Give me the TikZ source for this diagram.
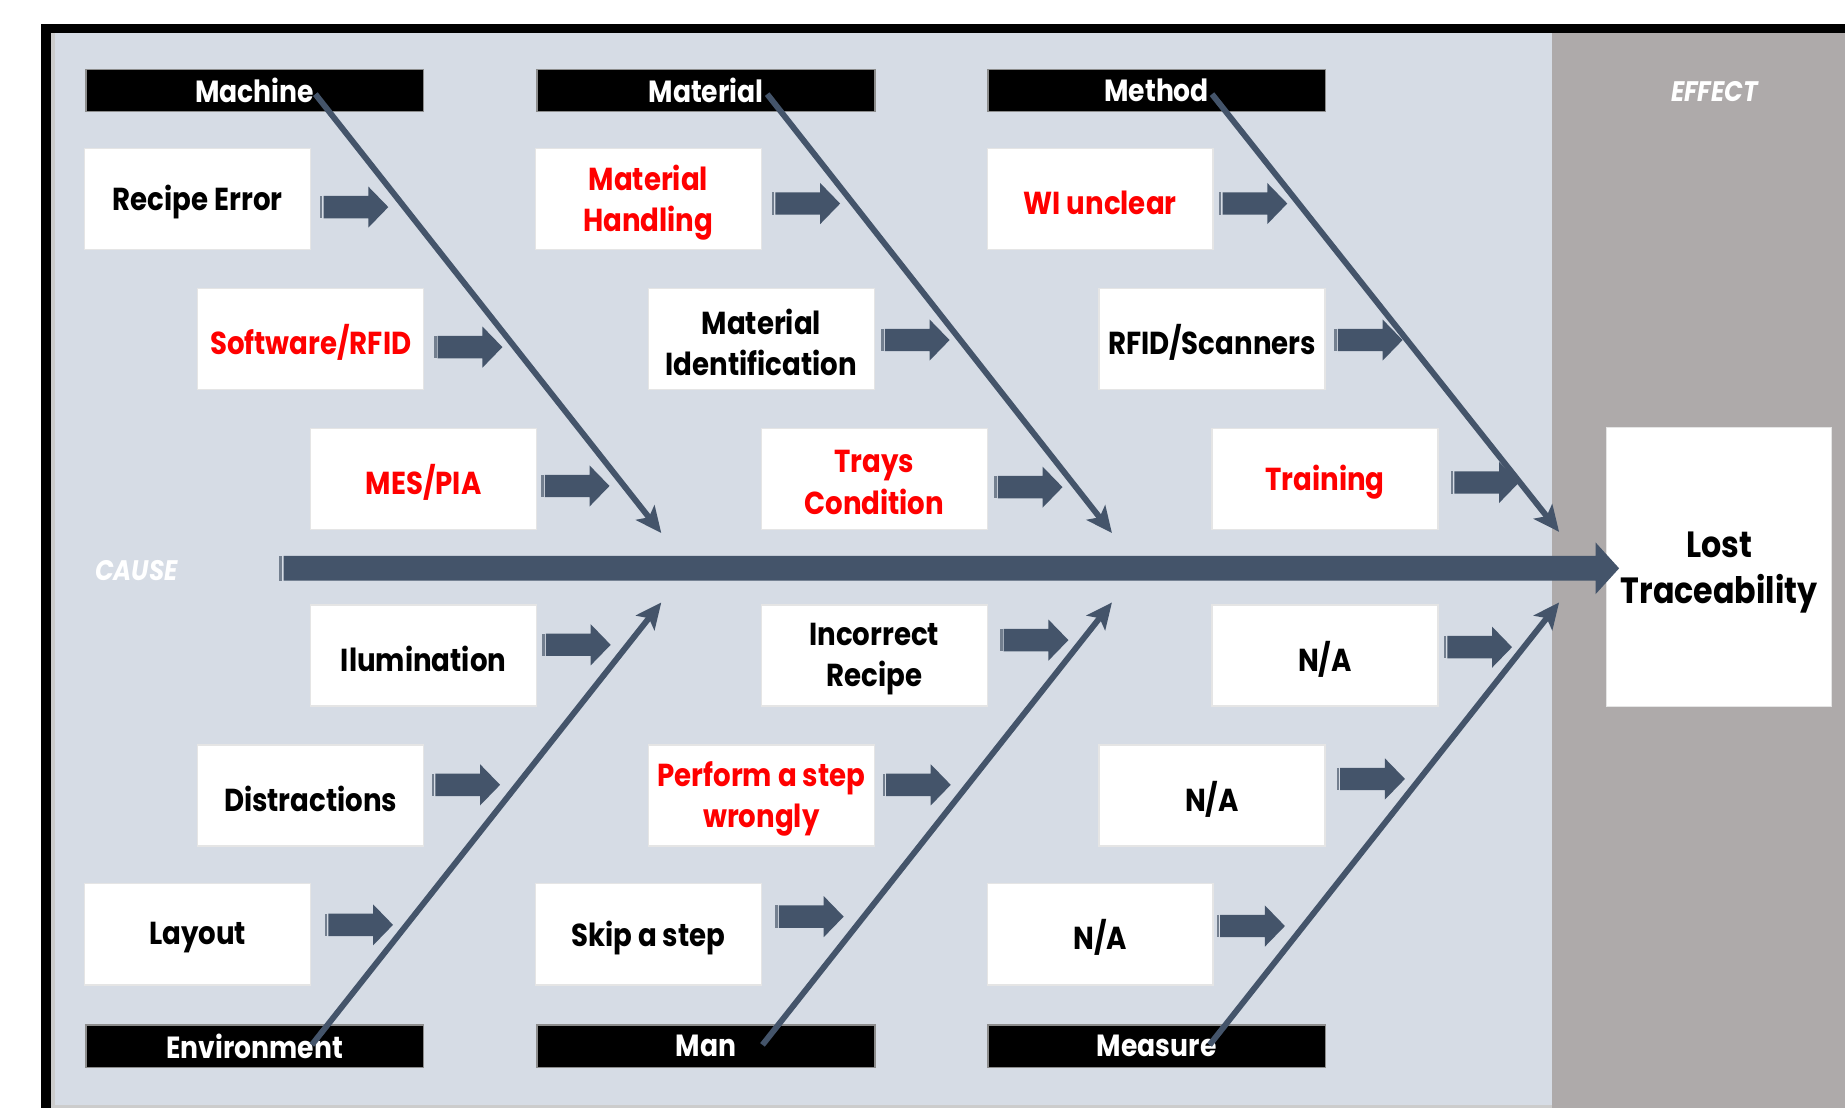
\documentclass[tikz,border=0pt]{standalone}
\usepackage{fontspec}
\setmainfont{Poppins}[FakeStretch=0.87]
\usetikzlibrary{arrows.meta}
\definecolor{panel}{HTML}{D6DCE5}
\definecolor{effectgray}{HTML}{AEAAAA}
\definecolor{bone}{HTML}{44546A}
\definecolor{redtext}{HTML}{FF0000}
\tikzset{
  causebox/.style={fill=white, draw=black!10, line width=0.6pt, minimum width=96pt,
    minimum height=43pt, inner sep=0pt},
  boxtext/.style={inner sep=0pt, align=center,
    font=\bfseries\fontsize{13.5}{17.5}\selectfont},
  redtxt/.style={text=redtext},
  blacktxt/.style={text=black},
  hdr/.style={fill=black, draw=black!45, line width=0.6pt, minimum width=143.5pt,
    minimum height=18pt, inner sep=0pt, text=white,
    font=\bfseries\fontsize{13}{15}\selectfont},
  bonel/.style={draw=bone, line width=2.5pt, -{Stealth[length=11pt,width=10pt,inset=2.5pt]}},
  sidelabel/.style={text=white, font=\bfseries\itshape\fontsize{12}{13}\selectfont}
}
% #1 text style, #2 name, #3 position, #4 text
\newcommand\causenode[4]{%
  \node[causebox] (#2) at (#3) {};
  \node[boxtext,#1] (#2-t) at ([yshift=-1.5pt]#2.center) {#4};}
\newcommand\blkarrow[2]{%
  \begin{scope}[shift={(#1,#2)}]
    \fill[bone!75] (0,-9.5) rectangle (2,9.5);
    \fill[bone] (3,-9.5) -- (41,-9.5) -- (41,-17.5) -- (58,0) -- (41,17.5) -- (41,9.5) -- (3,9.5) -- cycle;
  \end{scope}}
\begin{document}
\begin{tikzpicture}[x=0.5pt,y=-0.5pt]
\useasboundingbox (0,0) rectangle (1568,942);
% frame and panels
\fill[white] (0,0) rectangle (1568,942);
\fill[black] (35,20) rectangle (1568,942);
\fill[black!20] (43,28) rectangle (1568,942);
\fill[panel] (47,28) rectangle (1319,939);
\fill[effectgray] (1319,28) rectangle (1568,942);
\fill[black!20] (47,939) rectangle (1319,942);
% side labels
\node[sidelabel] (cause) at (116,485) {CAUSE};
\node[sidelabel] (effectlbl) at (1457,78) {EFFECT};
% effect box
\node[fill=white, draw=black!10, minimum width=95.5pt, minimum height=118.5pt, inner sep=0pt] (effect) at (1461,481.5) {};
\node[inner sep=0pt, align=center, font=\bfseries\fontsize{15.5}{19.5}\selectfont] (effect-t)
  at ([yshift=-2.5pt]effect.center) {Lost\\Traceability};
% spine
\coordinate (spS) at (237,483);
\coordinate (spE) at (1376,483);
\fill[bone!75] (spS) ++(0,-10.5) rectangle ++(3,21);
\fill[bone] (241,472.5) -- (1356,472.5) -- (1356,461) -- (spE) -- (1356,505) -- (1356,493.5) -- (241,493.5) -- cycle;
% headers
\node[hdr] (machine) at (216.5,77) {Machine};
\node[hdr] (material) at (600,77) {Material};
\node[hdr] (method) at (983,77) {Method};
\node[hdr] (environment) at (216.5,889) {Environment};
\node[hdr] (man) at (600,889) {Man};
\node[hdr] (measure) at (983,889) {Measure};
% cause boxes
\causenode{blacktxt}{recipe}{168,169}{Recipe Error}
\causenode{redtxt}{software}{264,288}{Software/RFID}
\causenode{redtxt}{mes}{360,407}{MES/PIA}
\causenode{blacktxt}{ilum}{360,557}{Ilumination}
\causenode{blacktxt}{distr}{264,676}{Distractions}
\causenode{blacktxt}{layout}{168,794}{Layout}
\causenode{redtxt}{mhand}{551,169}{Material\\Handling}
\causenode{blacktxt}{mident}{647,288}{Material\\Identification}
\causenode{redtxt}{trays}{743,407}{Trays\\Condition}
\causenode{blacktxt}{increc}{743,557}{Incorrect\\Recipe}
\causenode{redtxt}{perform}{647,676}{Perform a step\\wrongly}
\causenode{blacktxt}{skip}{551,794}{Skip a step}
\causenode{redtxt}{wi}{935,169}{WI unclear}
\causenode{blacktxt}{rfid}{1030,288}{RFID/Scanners}
\causenode{redtxt}{training}{1126,407}{Training}
\causenode{blacktxt}{na1}{1126,557}{N/A}
\causenode{blacktxt}{na2}{1030,676}{N/A}
\causenode{blacktxt}{na3}{935,794}{N/A}
% block arrows
\blkarrow{272}{176}
\blkarrow{369}{295}
\blkarrow{460}{413}
\blkarrow{461}{548}
\blkarrow{367}{667}
\blkarrow{276}{786}
\blkarrow{656}{173}
\blkarrow{749}{289}
\blkarrow{845}{414}
\blkarrow{850}{544}
\blkarrow{750}{667}
\blkarrow{659}{779}
\blkarrow{1036}{173}
\blkarrow{1134}{289}
\blkarrow{1233}{410}
\blkarrow{1227}{550}
\blkarrow{1136}{662}
\blkarrow{1034}{787}
% bones
\coordinate (b1s) at (268,80);   \coordinate (b1e) at (562,453);
\coordinate (b2s) at (652,80);   \coordinate (b2e) at (945,453);
\coordinate (b3s) at (1030,80);  \coordinate (b3e) at (1325,452);
\coordinate (b4s) at (265,888);  \coordinate (b4e) at (562,512);
\coordinate (b5s) at (648,888);  \coordinate (b5e) at (945,512);
\coordinate (b6s) at (1028,888); \coordinate (b6e) at (1325,512);
\draw[bonel] (b1s) -- (b1e);
\draw[bonel] (b2s) -- (b2e);
\draw[bonel] (b3s) -- (b3e);
\draw[bonel] (b4s) -- (b4e);
\draw[bonel] (b5s) -- (b5e);
\draw[bonel] (b6s) -- (b6e);
\end{tikzpicture}
\end{document}
